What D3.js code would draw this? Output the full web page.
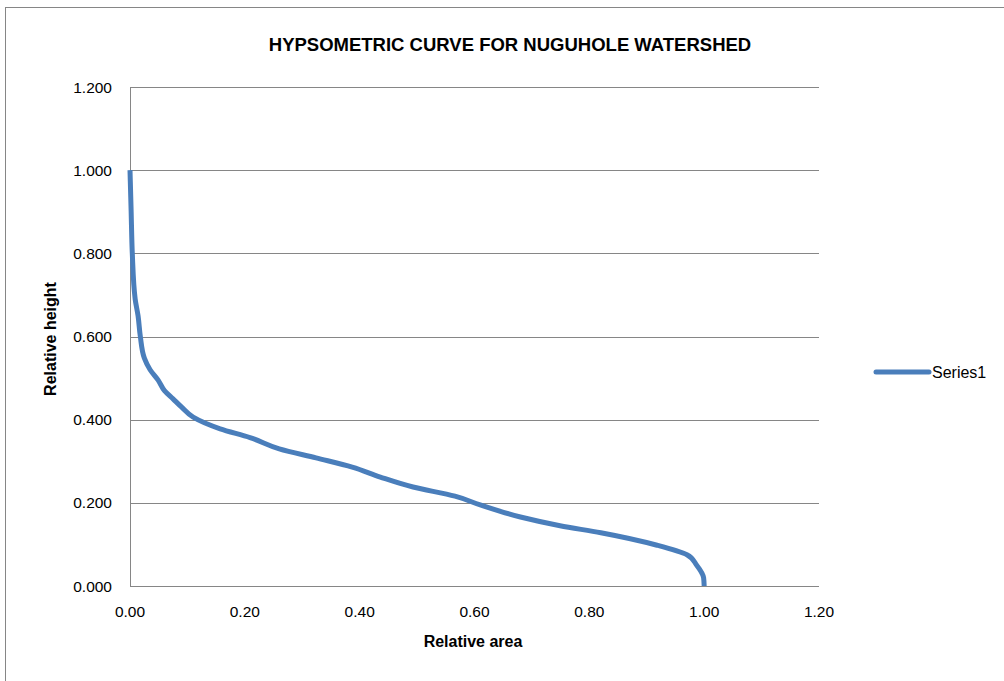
<!DOCTYPE html>
<html lang="en">
<head>
    <meta charset="UTF-8"/>
    <title>Hypsometric Curve</title>
    <script src="https://d3js.org/d3.v7.min.js"></script>
    <style>
        body { margin: 0; background: #fff; }
        text { font-family: "Liberation Sans", Arial, sans-serif; }
    </style>
</head>
<body>
<script>

    var w = 1004;
    var h = 681;

    // data
    var relArea   = [0, 0.002, 0.004, 0.009, 0.014, 0.018, 0.025, 0.035, 0.049, 0.060, 0.075, 0.090, 0.110, 0.157, 0.209, 0.260, 0.324, 0.387, 0.436, 0.493, 0.566, 0.610, 0.680, 0.749, 0.820, 0.918, 0.970, 0.987, 0.999, 1.000];
    var relHeight = [1.000, 0.900, 0.800, 0.690, 0.650, 0.600, 0.548, 0.520, 0.495, 0.470, 0.450, 0.430, 0.406, 0.378, 0.357, 0.330, 0.308, 0.286, 0.262, 0.238, 0.216, 0.195, 0.166, 0.145, 0.128, 0.098, 0.075, 0.050, 0.020, 0.000];

    var xTicks = [0, 0.2, 0.4, 0.6, 0.8, 1.0, 1.2];
    var yTicks = [0, 0.2, 0.4, 0.6, 0.8, 1.0, 1.2];
    var seriesName = "Series1";

    var svg = d3.select("body")
                .append("svg")
                .attr("width", w)
                .attr("height", h);

    // chart border
    svg.append("rect")
        .attr("x", 5.5).attr("y", 7.5)
        .attr("width", w + 10).attr("height", h + 10)
        .attr("fill", "none")
        .attr("stroke", "#868686")
        .attr("stroke-width", 1);

    var xScale = d3.scaleLinear().domain([0, 1.2]).range([130, 819]);
    var yScale = d3.scaleLinear().domain([0, 1.2]).range([586, 87]);

    // gridlines
    svg.selectAll(".grid")
        .data(yTicks.slice(1))
        .enter()
        .append("line")
        .attr("x1", xScale(0)).attr("x2", xScale(1.2))
        .attr("y1", function(d){ return Math.round(yScale(d)) + 0.5; })
        .attr("y2", function(d){ return Math.round(yScale(d)) + 0.5; })
        .attr("stroke", "#868686")
        .attr("stroke-width", 1);

    // axis lines
    svg.append("line")
        .attr("x1", xScale(0)).attr("x2", xScale(1.2))
        .attr("y1", Math.round(yScale(0)) + 0.5).attr("y2", Math.round(yScale(0)) + 0.5)
        .attr("stroke", "#868686");
    svg.append("line")
        .attr("x1", Math.round(xScale(0)) + 0.5).attr("x2", Math.round(xScale(0)) + 0.5)
        .attr("y1", yScale(1.2)).attr("y2", yScale(0))
        .attr("stroke", "#868686");

    // tick labels
    svg.selectAll(".ylab")
        .data(yTicks)
        .enter()
        .append("text")
        .attr("x", 112)
        .attr("y", function(d){ return yScale(d); })
        .attr("dy", "0.36em")
        .attr("text-anchor", "end")
        .attr("font-size", 15.5)
        .attr("fill", "#000")
        .text(function(d){ return d3.format(".3f")(d); });

    svg.selectAll(".xlab")
        .data(xTicks)
        .enter()
        .append("text")
        .attr("x", function(d){ return xScale(d); })
        .attr("y", 617)
        .attr("text-anchor", "middle")
        .attr("font-size", 15.5)
        .attr("fill", "#000")
        .text(function(d){ return d3.format(".2f")(d); });

    // titles
    svg.append("text")
        .attr("x", 510).attr("y", 51)
        .attr("text-anchor", "middle")
        .attr("font-size", 18.5)
        .attr("font-weight", "bold")
        .text("HYPSOMETRIC CURVE FOR NUGUHOLE WATERSHED");

    svg.append("text")
        .attr("x", 473).attr("y", 647)
        .attr("text-anchor", "middle")
        .attr("font-size", 16)
        .attr("font-weight", "bold")
        .text("Relative area");

    svg.append("text")
        .attr("transform", "translate(56,339) rotate(-90)")
        .attr("text-anchor", "middle")
        .attr("font-size", 16)
        .attr("font-weight", "bold")
        .text("Relative height");

    // the curve
    var pts = relArea.map(function(a, i){ return [a, relHeight[i]]; });
    var line = d3.line()
        .x(function(d){ return xScale(d[0]); })
        .y(function(d){ return yScale(d[1]); })
        .curve(d3.curveMonotoneY);

    svg.append("path")
        .datum(pts)
        .attr("d", line)
        .attr("fill", "none")
        .attr("stroke", "#4a7ebb")
        .attr("stroke-width", 5)
        .attr("stroke-linejoin", "round");

    // legend
    svg.append("line")
        .attr("x1", 876).attr("x2", 929)
        .attr("y1", 372).attr("y2", 372)
        .attr("stroke", "#4a7ebb")
        .attr("stroke-width", 5)
        .attr("stroke-linecap", "round");
    svg.append("text")
        .attr("x", 932).attr("y", 372)
        .attr("dy", "0.36em")
        .attr("font-size", 16)
        .text(seriesName);

</script>
</body>
</html>
